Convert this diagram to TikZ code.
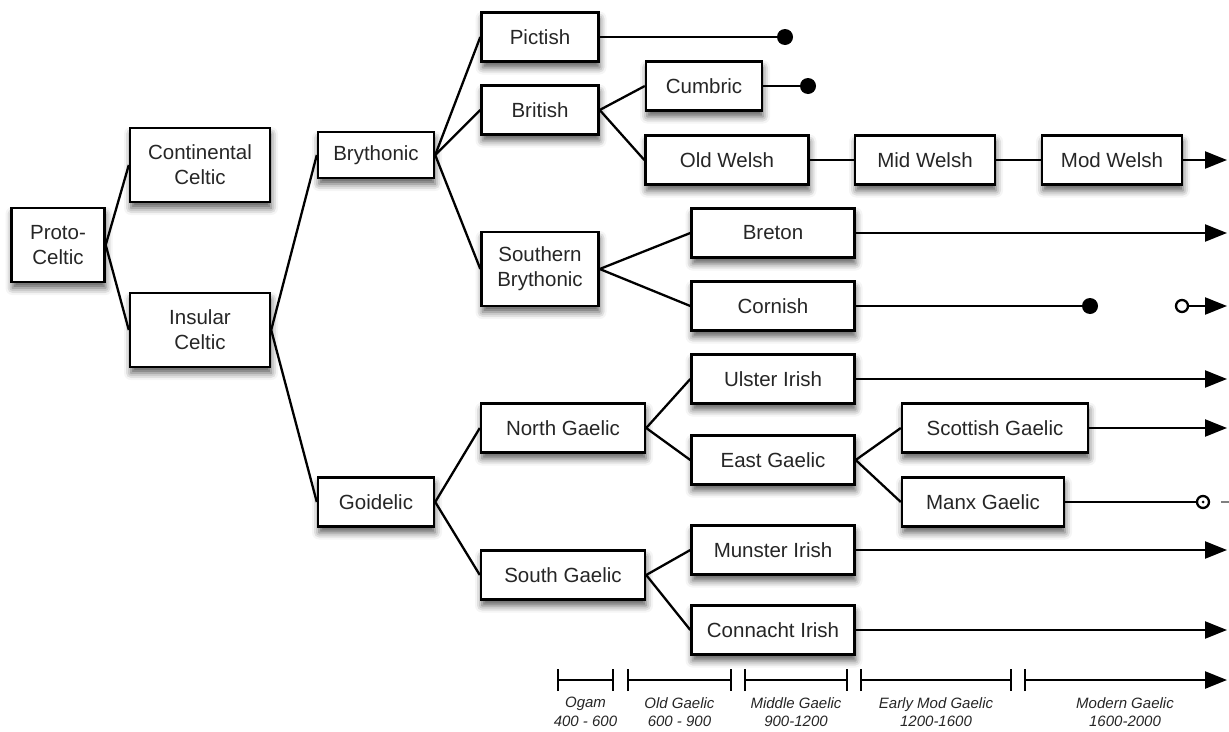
\documentclass[tikz,border=0pt]{standalone}
\usepackage{fontspec}
\setmainfont{Liberation Sans}
\usetikzlibrary{arrows.meta,shadows.blur}
\begin{document}
\begin{tikzpicture}[x=1pt,y=-1pt,
  lang/.style={draw=black,line width=2.4pt,fill=white,align=center,
    minimum height=49pt,text=black!85,font=\fontsize{20.5}{25}\selectfont,
    blur shadow={shadow xshift=1pt,shadow yshift=-6pt,shadow blur radius=7pt,shadow opacity=65}},
  tall/.style={minimum height=74pt},
  branch/.style={line width=2.3pt},
  ending/.style={branch,-{Triangle[length=22pt,width=17pt]}},
  period/.style={line width=2.5pt,{Bar[width=22pt,line width=2pt]}-{Bar[width=22pt,line width=2pt]}},
  era/.style={align=center,text=black!85,font=\fontsize{15}{18.5}\selectfont\itshape}]
\useasboundingbox (0,0) rectangle (1229,731);
% the languages
\node[lang,tall,minimum width=93pt] (proto) at (58,245) {Proto-\\Celtic};
\node[lang,tall,minimum width=140pt] (cont) at (200,165) {Continental\\Celtic};
\node[lang,tall,minimum width=140pt] (insul) at (200,330) {Insular\\Celtic};
\node[lang,minimum width=116pt,minimum height=46pt] (bryth) at (376,155) {Brythonic};
\node[lang,minimum width=116pt] (goid) at (376,502) {Goidelic};
\node[lang,minimum width=117pt] (pict) at (540,37) {Pictish};
\node[lang,minimum width=117pt] (brit) at (540,110) {British};
\node[lang,tall,minimum width=117pt] (sbryth) at (540,269) {Southern\\Brythonic};
\node[lang,minimum width=164pt] (ngael) at (563,428) {North Gaelic};
\node[lang,minimum width=164pt] (sgael) at (563,575) {South Gaelic};
\node[lang,minimum width=116pt] (cumb) at (704,86) {Cumbric};
\node[lang,minimum width=163pt] (oldw) at (727,160) {Old Welsh};
\node[lang,minimum width=140pt] (midw) at (925,160) {Mid Welsh};
\node[lang,minimum width=140pt] (modw) at (1112,160) {Mod Welsh};
\node[lang,minimum width=163pt] (bret) at (773,233) {Breton};
\node[lang,minimum width=163pt] (corn) at (773,306) {Cornish};
\node[lang,minimum width=163pt] (ulst) at (773,379) {Ulster Irish};
\node[lang,minimum width=163pt] (egael) at (773,460) {East Gaelic};
\node[lang,minimum width=163pt] (munst) at (773,550) {Munster Irish};
\node[lang,minimum width=163pt] (conn) at (773,630) {Connacht Irish};
\node[lang,minimum width=186pt] (scot) at (995,428) {Scottish Gaelic};
\node[lang,minimum width=162pt] (manx) at (983,502) {Manx Gaelic};
% branches
\foreach \a/\b in {proto/cont,proto/insul,insul/bryth,insul/goid,bryth/pict,bryth/brit,bryth/sbryth,
  brit/cumb,brit/oldw,oldw/midw,midw/modw,sbryth/bret,sbryth/corn,goid/ngael,goid/sgael,
  ngael/ulst,ngael/egael,egael/scot,egael/manx,sgael/munst,sgael/conn}
  \draw[branch] (\a.east) -- (\b.west);
% extinct languages
\coordinate (pictend) at (785,37);
\coordinate (cumbend) at (808,86);
\coordinate (cornend) at (1090,306);
\draw[branch] (pict.east) -- (pictend);
\draw[branch] (cumb.east) -- (cumbend);
\draw[branch] (corn.east) -- (cornend);
\foreach \c in {pictend,cumbend,cornend}
  \fill (\c) circle (8);
% living languages
\coordinate (modwend) at (1227,160);
\coordinate (bretend) at (1227,233);
\coordinate (ulstend) at (1227,379);
\coordinate (scotend) at (1227,428);
\coordinate (munstend) at (1227,550);
\coordinate (connend) at (1227,630);
\draw[ending] (modw.east) -- (modwend);
\draw[ending] (bret.east) -- (bretend);
\draw[ending] (ulst.east) -- (ulstend);
\draw[ending] (scot.east) -- (scotend);
\draw[ending] (munst.east) -- (munstend);
\draw[ending] (conn.east) -- (connend);
% revived languages
\coordinate (cornrev) at (1182,306);
\coordinate (cornlive) at (1227,306);
\draw[branch] (cornrev) circle (6);
\draw[ending] ([xshift=6pt]cornrev) -- (cornlive);
\coordinate (manxrev) at (1203,502);
\coordinate (manxlive) at (1229,502);
\draw[branch] (manx.east) -- ([xshift=-6pt]manxrev);
\draw[branch] (manxrev) circle (6);
\fill (manxrev) circle (1.5);
\draw[branch,black!50] ([xshift=18pt]manxrev) -- (manxlive);
% time line
\foreach \s/\e/\name/\years in {557/614/Ogam/400 - 600,627/732/Old Gaelic/600 - 900,
  744/848/Middle Gaelic/900-1200,860/1012/Early Mod Gaelic/1200-1600}
{
  \draw[period] (\s,680) -- (\e,680);
  \node[era] (era\s) at ({(\s+\e)/2},712) {\name\\\years};
}
\draw[line width=2.5pt,{Bar[width=22pt,line width=2pt]}-{Triangle[length=22pt,width=17pt]}] (1024,680) -- (1227,680);
\node[era] (era1024) at (1125,712) {Modern Gaelic\\1600-2000};
\end{tikzpicture}
\end{document}
